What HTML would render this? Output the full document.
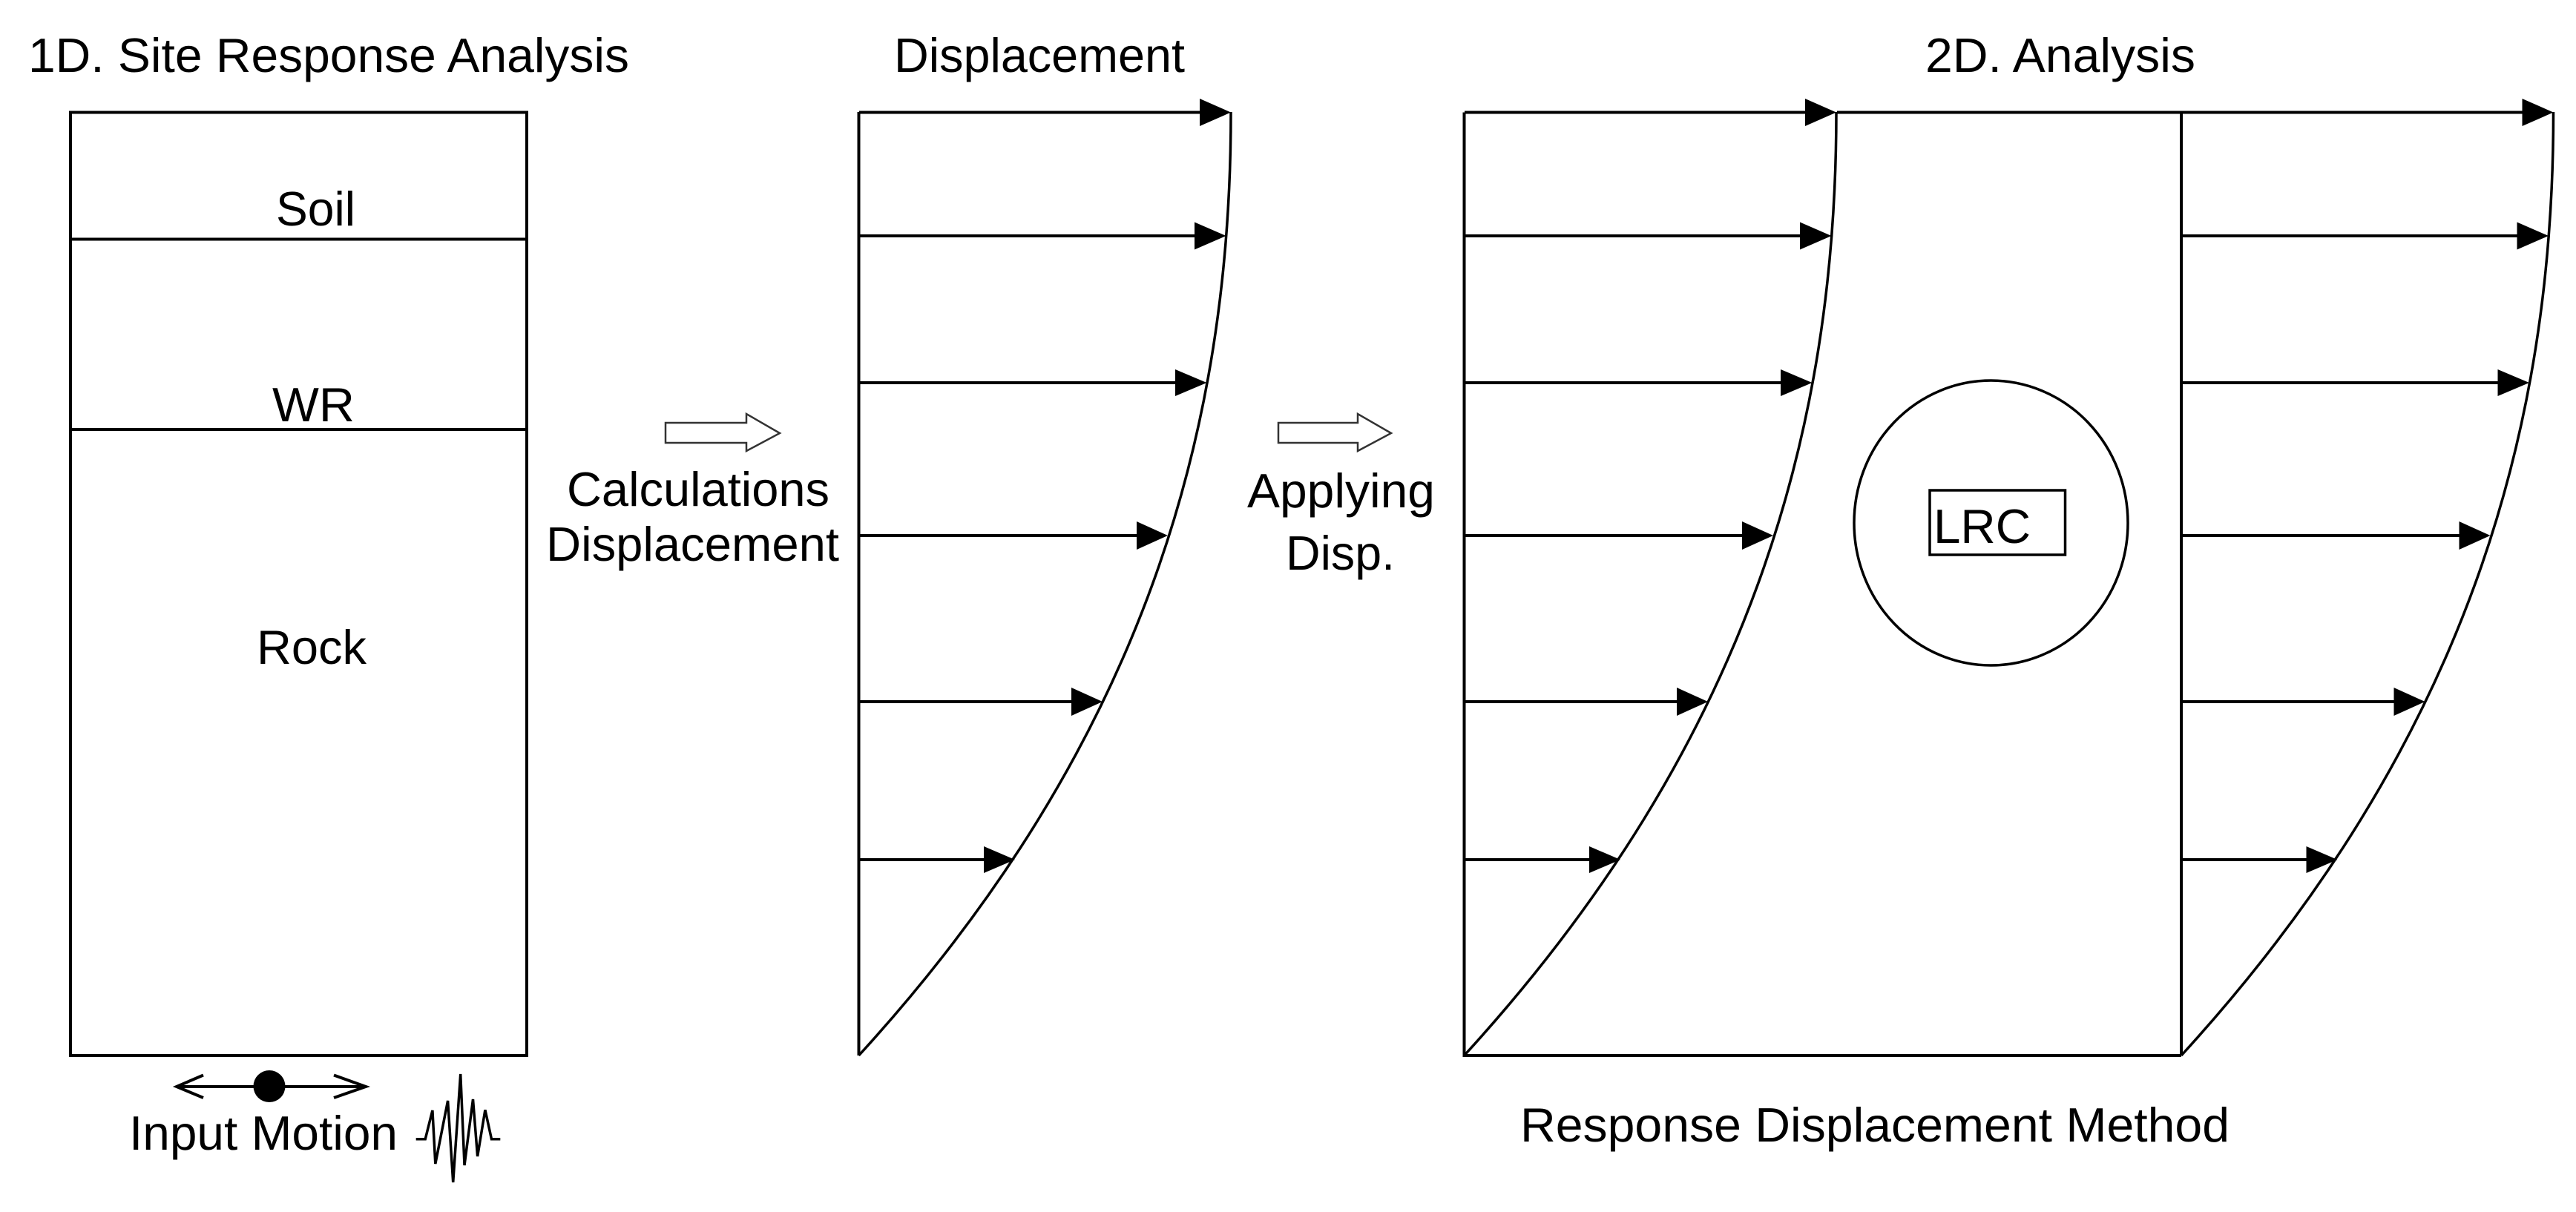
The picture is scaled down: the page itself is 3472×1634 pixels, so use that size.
<!DOCTYPE html>
<html><head><meta charset="utf-8"><style>
html,body{margin:0;padding:0;background:#fff}
svg{display:block}
text{font-family:"Liberation Sans",Arial,sans-serif;font-size:65px;fill:#000}
</style></head><body>
<svg width="3472" height="1634" viewBox="0 0 3472 1634" xmlns="http://www.w3.org/2000/svg">
<rect width="3472" height="1634" fill="#fff"/>
<defs>
<path id="c" d="M1659 151C1659 575 1545 999 1157.500 1423" fill="none" stroke="#000" stroke-width="3.500"/>
<g id="a" fill="#000" stroke="none">
<path d="M1158 151.500H1620M1158 318H1613M1158 516H1587M1158 722H1534M1158 946H1446M1158 1159H1328" stroke="#000" stroke-width="4" fill="none"/>
<path d="M1617 133L1659 151.500L1617 170ZM1610 299.500L1652.500 318L1610 336.500ZM1584 498L1626.500 516L1584 534ZM1532 703L1574 722L1532 741ZM1444 927L1486 946L1444 965ZM1326 1141L1368 1159L1326 1177Z"/>
</g>
</defs>

<!-- 1D box -->
<g fill="none" stroke="#000" stroke-width="4">
<rect x="95" y="151.500" width="615" height="1271.500"/>
<path d="M95 322.500H710M95 579H710"/>
</g>

<!-- panel 1 -->
<path d="M1157.500 151V1423" stroke="#000" stroke-width="4"/>
<use href="#c"/><use href="#a"/>

<!-- panel 2 -->
<path d="M1973.500 151.500V1423H2940M2940 151.500V1423" fill="none" stroke="#000" stroke-width="4"/>
<path d="M2476 151.500H3405" stroke="#000" stroke-width="4"/>
<g transform="translate(816 0)"><use href="#c"/><use href="#a"/></g>
<g transform="translate(1782.500 0)"><use href="#c"/><use href="#a"/></g>

<!-- tunnel -->
<ellipse cx="2683.500" cy="705" rx="184.500" ry="192" fill="none" stroke="#000" stroke-width="3.500"/>
<rect x="2601" y="661" width="182.500" height="87" fill="none" stroke="#000" stroke-width="3.500"/>

<!-- hollow arrows -->
<path d="M897 570H1006V558L1051 584L1006 608V597H897Z" fill="#fff" stroke="#333" stroke-width="2.500"/>
<path d="M1723 570H1830V558L1875 584L1830 608V597H1723Z" fill="#fff" stroke="#333" stroke-width="2.500"/>

<!-- input motion -->
<path d="M238 1465H493M274 1449.500L238 1465L274 1480M450 1449.500L493 1465L450 1480" fill="none" stroke="#000" stroke-width="4"/>
<circle cx="363" cy="1464.500" r="21.500" fill="#000"/>
<path d="M560.700 1535.800H573.200L582.900 1497L586.800 1569L603.600 1484L610.700 1594L620.700 1448L626 1571L637.500 1482L643.600 1559L653.900 1496.400L662.500 1535.800H674.300" fill="none" stroke="#000" stroke-width="3.500"/>

<!-- labels -->
<text x="38" y="97" textLength="810" lengthAdjust="spacingAndGlyphs">1D. Site Response Analysis</text>
<text x="1205" y="97" textLength="392" lengthAdjust="spacingAndGlyphs">Displacement</text>
<text x="2595" y="97" textLength="364" lengthAdjust="spacingAndGlyphs">2D. Analysis</text>
<text x="372" y="304" textLength="107" lengthAdjust="spacingAndGlyphs">Soil</text>
<text x="367" y="568" textLength="111" lengthAdjust="spacingAndGlyphs">WR</text>
<text x="346" y="895" textLength="148" lengthAdjust="spacingAndGlyphs">Rock</text>
<text x="764" y="682" textLength="354" lengthAdjust="spacingAndGlyphs">Calculations</text>
<text x="736" y="756" textLength="395" lengthAdjust="spacingAndGlyphs">Displacement</text>
<text x="1681" y="684" textLength="253" lengthAdjust="spacingAndGlyphs">Applying</text>
<text x="1733" y="768" textLength="147" lengthAdjust="spacingAndGlyphs">Disp.</text>
<text x="2606" y="732" textLength="131" lengthAdjust="spacingAndGlyphs">LRC</text>
<text x="174" y="1550" textLength="362" lengthAdjust="spacingAndGlyphs">Input Motion</text>
<text x="2049" y="1539" textLength="956" lengthAdjust="spacingAndGlyphs">Response Displacement Method</text>
</svg>
</body></html>
